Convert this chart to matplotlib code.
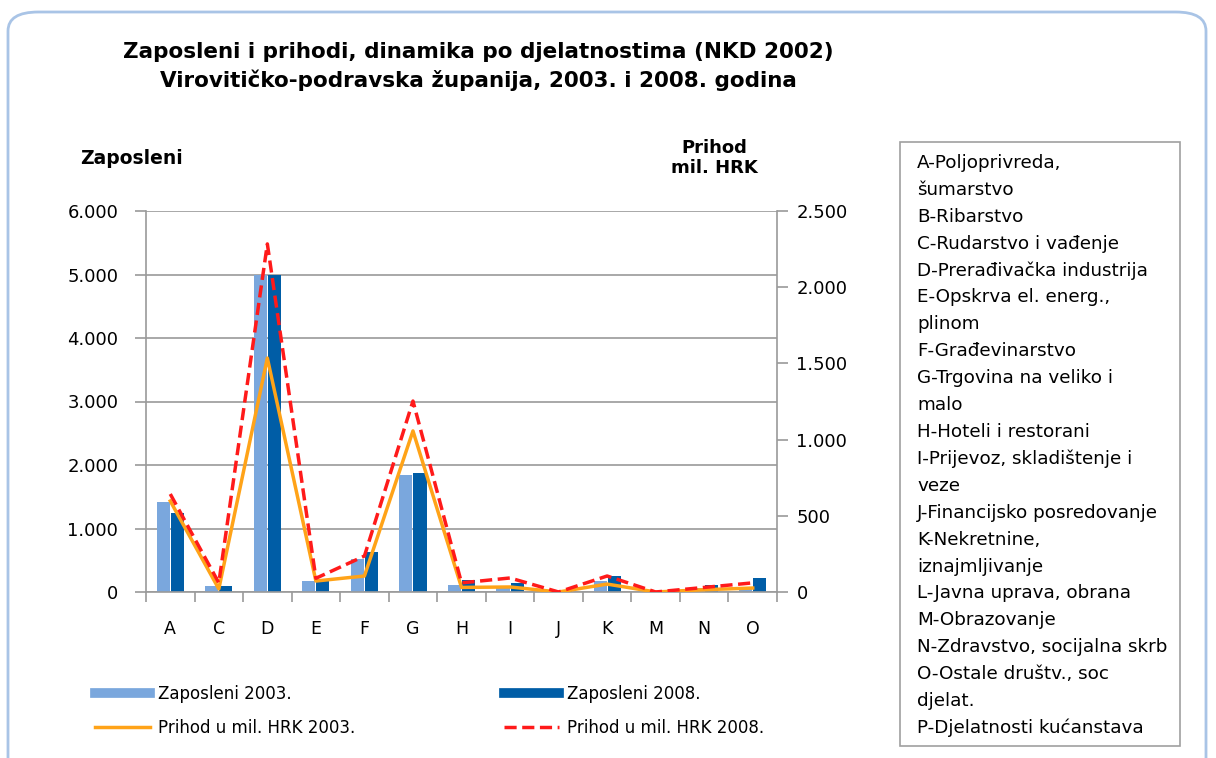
import matplotlib.pyplot as plt
import numpy as np
from matplotlib.patches import FancyBboxPatch, Rectangle
from matplotlib.lines import Line2D
from matplotlib.ticker import FuncFormatter

# data
categories = ['A', 'C', 'D', 'E', 'F', 'G', 'H', 'I', 'J', 'K', 'M', 'N', 'O']
zaposleni_2003 = [1420, 100, 5000, 170, 520, 1840, 110, 60, 10, 170, 10, 60, 60]
zaposleni_2008 = [1240, 100, 5000, 200, 630, 1875, 190, 140, 10, 250, 10, 110, 220]
prihod_2003 = [597, 20, 1535, 72, 105, 1057, 30, 33, 0, 52, 0, 15, 26]
prihod_2008 = [643, 60, 2284, 90, 236, 1253, 60, 92, 0, 105, 0, 30, 60]

legend_lines = [
    'A-Poljoprivreda,', 'šumarstvo', 'B-Ribarstvo', 'C-Rudarstvo i vađenje',
    'D-Prerađivačka industrija', 'E-Opskrva el. energ.,', 'plinom',
    'F-Građevinarstvo', 'G-Trgovina na veliko i', 'malo', 'H-Hoteli i restorani',
    'I-Prijevoz, skladištenje i', 'veze', 'J-Financijsko posredovanje',
    'K-Nekretnine,', 'iznajmljivanje', 'L-Javna uprava, obrana', 'M-Obrazovanje',
    'N-Zdravstvo, socijalna skrb', 'O-Ostale društv., soc', 'djelat.',
    'P-Djelatnosti kućanstava',
]

c_light = '#7aa7dd'
c_dark = '#005da6'
c_orange = '#ffa318'
c_red = '#ff1a1a'
grid_c = '#9a9a9a'

W, H = 1216, 758
plt.rcParams['font.family'] = ['DejaVu Sans']
fig = plt.figure(figsize=(W / 100, H / 100), dpi=100)

# outer rounded frame (bottom edge runs off the picture)
frame = FancyBboxPatch((8 / W, -30 / H), 1198 / W, (758 - 12 + 30) / H,
                       boxstyle='round,pad=0,rounding_size=0.025',
                       transform=fig.transFigure, facecolor='white',
                       edgecolor='#a9c4e6', linewidth=2, zorder=-5)
fig.patches.append(frame)

ax = fig.add_axes([146 / W, 1 - 592 / H, (777 - 146) / W, (592 - 211) / H])
ax.patch.set_alpha(0)
x = np.arange(len(categories))
bw = 0.27
ax.bar(x - 0.145, zaposleni_2003, bw, color=c_light, zorder=2)
ax.bar(x + 0.145, zaposleni_2008, bw, color=c_dark, zorder=2)
ax.set_xlim(-0.5, len(categories) - 0.5)
ax.set_ylim(0, 6000)
ax.set_yticks(range(0, 6001, 1000))
fmt = FuncFormatter(lambda v, p: f'{int(v):,}'.replace(',', '.'))
ax.yaxis.set_major_formatter(fmt)
ax.grid(axis='y', color=grid_c, linewidth=1.2, zorder=0)
ax.set_axisbelow(True)
ax.set_xticks(x)
ax.set_xticklabels(categories)
ax.set_xticks(np.arange(-0.5, len(categories)), minor=True)
ax.tick_params(axis='x', which='major', length=0, pad=20, labelsize=12.5)
ax.tick_params(axis='x', which='minor', length=7, color=grid_c, width=1.2)
ax.tick_params(axis='y', length=8, color=grid_c, width=1.2, labelsize=13, pad=12)
for s in ['top', 'right']:
    ax.spines[s].set_visible(False)
for s in ['left', 'bottom']:
    ax.spines[s].set_color(grid_c)
    ax.spines[s].set_linewidth(1.2)

ax2 = ax.twinx()
ax2.patch.set_alpha(0)
ax2.plot(x, prihod_2003, color=c_orange, linewidth=2.5, zorder=3)
ax2.plot(x, prihod_2008, color=c_red, linewidth=2.5, linestyle=(0, (3.5, 1.6)), zorder=4)
ax2.set_ylim(0, 2500)
ax2.set_yticks(range(0, 2501, 500))
ax2.yaxis.set_major_formatter(fmt)
ax2.tick_params(axis='y', length=8, color=grid_c, width=1.2, labelsize=13, pad=6)
for s in ['top', 'left', 'bottom']:
    ax2.spines[s].set_visible(False)
ax2.spines['right'].set_color(grid_c)
ax2.spines['right'].set_linewidth(1.2)

# titles
fig.text(478 / W, 1 - 52 / H, 'Zaposleni i prihodi, dinamika po djelatnostima (NKD 2002)',
         ha='center', va='center', fontsize=15.5, fontweight='bold')
fig.text(478 / W, 1 - 80 / H, 'Virovitičko-podravska županija, 2003. i 2008. godina',
         ha='center', va='center', fontsize=15.5, fontweight='bold')
fig.text(80 / W, 1 - 158 / H, 'Zaposleni', ha='left', va='center',
         fontsize=13.5, fontweight='bold')
fig.text(714 / W, 1 - 158 / H, 'Prihod\nmil. HRK', ha='center', va='center',
         fontsize=13, fontweight='bold', linespacing=1.1)

# bottom legend
handles = [Line2D([], [], color=c_light, linewidth=7),
           Line2D([], [], color=c_orange, linewidth=2.5),
           Line2D([], [], color=c_dark, linewidth=7),
           Line2D([], [], color=c_red, linewidth=2.5, linestyle=(0, (3.5, 1.6)))]
labels = ['Zaposleni 2003.', 'Prihod u mil. HRK 2003.',
          'Zaposleni 2008.', 'Prihod u mil. HRK 2008.']
fig.legend(handles, labels, ncol=2, loc='center left',
           bbox_to_anchor=(80 / W, 1 - 711 / H), frameon=False, fontsize=12,
           handlelength=3.3, handletextpad=0.5, columnspacing=8.9,
           labelspacing=0.95)

# right-hand category legend box
box = Rectangle((900 / W, 1 - 746 / H), 280 / W, (746 - 142) / H,
                transform=fig.transFigure, facecolor='white',
                edgecolor='#a0a0a0', linewidth=1.2, zorder=1)
fig.patches.append(box)
for i, line in enumerate(legend_lines):
    fig.text(917 / W, 1 - (163 + i * 26.9) / H, line, ha='left', va='center',
             fontsize=13.2, zorder=2)

fig.savefig('out.png', dpi=100)
